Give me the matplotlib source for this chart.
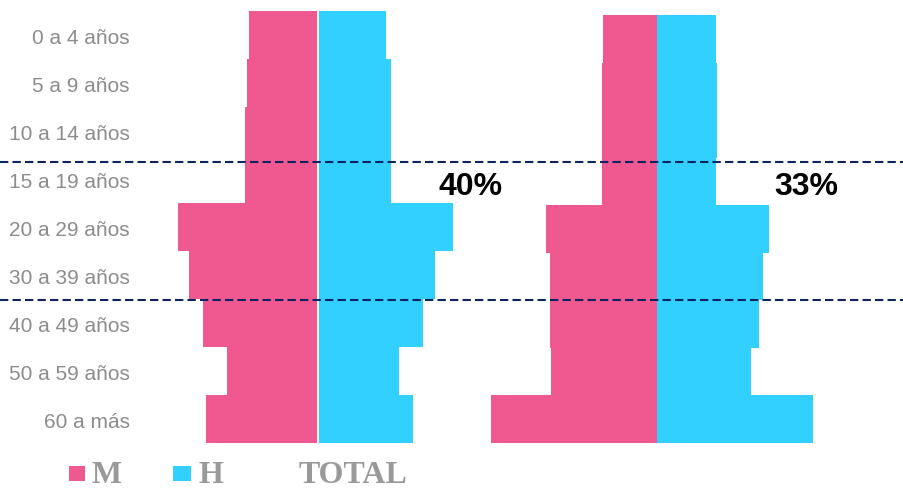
import matplotlib
matplotlib.use("Agg")
import matplotlib.pyplot as plt
from matplotlib.patches import Rectangle
from matplotlib.lines import Line2D
from matplotlib.transforms import ScaledTranslation

# Population shares (% of total) by age group, women (M) and men (H)
age_groups = ["0 a 4 años", "5 a 9 años", "10 a 14 años", "15 a 19 años",
              "20 a 29 años", "30 a 39 años", "40 a 49 años", "50 a 59 años",
              "60 a más"]
women_left = [4.1, 4.2, 4.3, 4.3, 8.3, 7.6, 6.8, 5.4, 6.6]
men_left = [4.0, 4.3, 4.3, 4.3, 8.0, 6.9, 6.2, 4.8, 5.6]
women_right = [3.3, 3.4, 3.4, 3.4, 6.8, 6.6, 6.6, 6.5, 10.2]
men_right = [3.6, 3.7, 3.7, 3.6, 6.9, 6.5, 6.3, 5.8, 9.6]
share_labels = ["40%", "33%"]
legend_labels = ["M", "H"]
caption = "TOTAL"

W, H = 904, 490
PINK = "#F0598F"
BLUE = "#31D0FF"
NAVY = "#0D2463"
GREY_LABEL = "#8C8C8C"
GREY_LEGEND = "#999999"

fig = plt.figure(figsize=(W / 100, H / 100), dpi=100)
fig.patch.set_facecolor("white")


def fx(px):
    return px / W


def fy(py):
    return 1 - py / H


def pyramid(left, right, top, bottom, center, scale, women, men):
    ax = fig.add_axes([fx(left), fy(bottom), fx(right - left), (bottom - top) / H])
    ax.set_facecolor("none")
    y = list(range(len(women)))
    ax.barh(y, [-v for v in women], height=1.0, color=PINK, linewidth=0,
            antialiased=False)
    ax.barh(y, men, height=1.0, color=BLUE, linewidth=0, antialiased=False)
    ax.set_xlim((left - center) / scale, (right - center) / scale)
    ax.set_ylim(len(women) - 0.5, -0.5)
    for s in ax.spines.values():
        s.set_visible(False)
    ax.set_xticks([])
    ax.set_yticks([])
    return ax


ax1 = pyramid(160, 476, 11, 443, 318, 16.92, women_left, men_left)
ax1.axvline(0, color="white", lw=1.3)
ax1.set_yticks(range(len(age_groups)))
ax1.set_yticklabels(age_groups, color=GREY_LABEL, fontsize=15,
                    family="Liberation Sans")
ax1.tick_params(axis="y", length=0, pad=21.6)
nudge = ScaledTranslation(0, -1.5 / 100, fig.dpi_scale_trans)
for lab in ax1.get_yticklabels():
    lab.set_transform(lab.get_transform() + nudge)

ax2 = pyramid(486, 828, 15, 443, 657, 16.26, women_right, men_right)

# Dashed band marking the 15-39 age range
for yline in (161.5, 299.5):
    fig.add_artist(Line2D([0, fx(903)], [fy(yline), fy(yline)],
                          transform=fig.transFigure, color=NAVY, lw=1.5,
                          linestyle=(0, (4, 2))))

for label, xc in zip(share_labels, (471, 806)):
    fig.text(fx(xc), fy(195), label, ha="center", va="baseline", fontsize=23,
             fontweight="bold", family="Liberation Sans", color="black")

# Legend along the bottom edge
for label, color, sq_left, sq_w, tx in zip(legend_labels, (PINK, BLUE),
                                            (69, 173), (16, 18), (92, 199)):
    fig.add_artist(Rectangle((fx(sq_left), fy(481)), sq_w / W, 15 / H,
                             transform=fig.transFigure, color=color, lw=0))
    fig.text(fx(tx), fy(489.5), label, ha="left", va="bottom", fontsize=23,
             fontweight="bold", family="Liberation Serif", color=GREY_LEGEND)

fig.text(fx(299), fy(489.5), caption, ha="left", va="bottom", fontsize=23,
         fontweight="bold", family="Liberation Serif", color=GREY_LEGEND)

fig.savefig("out.png", dpi=100)
